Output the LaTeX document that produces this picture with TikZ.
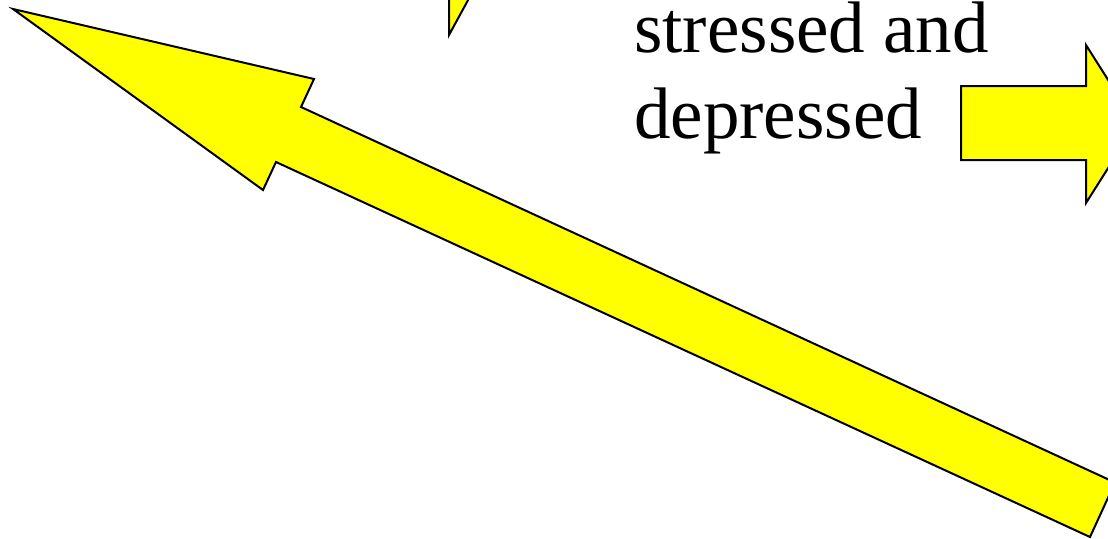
\documentclass[tikz,border=0pt]{standalone}
\usepackage{fontspec}
\setmainfont{Liberation Serif}
\definecolor{ylw}{RGB}{255,255,0}
\begin{document}
\begin{tikzpicture}[x=1pt,y=-1pt,
  yarrow/.style={fill=ylw,draw=black,line width=2pt,line join=miter},
  bigtext/.style={inner sep=0pt,anchor=base west,font=\fontsize{73}{86}\selectfont}]
\useasboundingbox (0,0) rectangle (1108,538);
\clip (0,0) rectangle (1108,538);
% big diagonal arrow
\draw[yarrow] (13,9) -- (314,79) -- (301,107) -- (1115,482.5) -- (1090,537) -- (276,162) -- (263,190) -- cycle;
% small arrow tip at top
\draw[yarrow] (449,-20) -- (449,35) -- (479,-20) -- cycle;
% right arrow
\draw[yarrow] (961,86) -- (1086,86) -- (1086,45) -- (1136,124) -- (1086,203) -- (1086,160) -- (961,160) -- cycle;
% text
\node[bigtext] (t1) at (634,52) {stressed and};
\node[bigtext] (t2) at (634,138) {depressed};
\end{tikzpicture}
\end{document}
